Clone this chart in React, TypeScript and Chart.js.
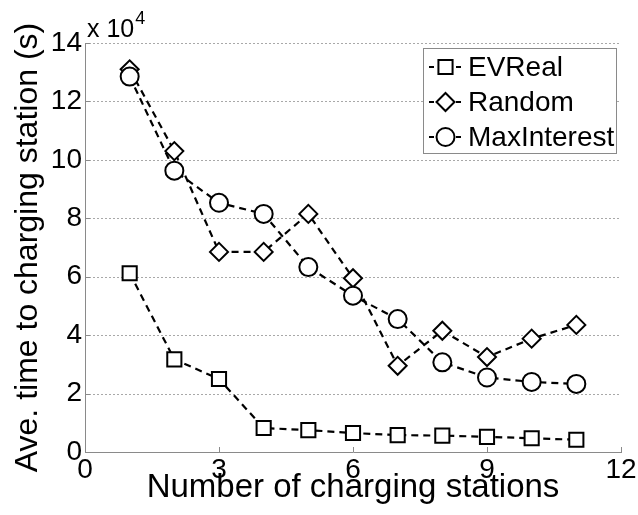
import React, { useEffect, useRef } from "react";
import { Chart, registerables } from "chart.js";

Chart.register(...registerables);

// ---- data (seconds) ----
const stations = [1, 2, 3, 4, 5, 6, 7, 8, 9, 10, 11];
const evReal = [61200, 31700, 25000, 8200, 7500, 6500, 5800, 5600, 5200, 4700, 4200];
const randomSel = [131000, 103000, 68500, 68500, 81500, 59500, 29500, 41500, 32500, 38800, 43500];
const maxInterest = [128500, 96300, 85300, 81500, 63300, 53500, 45500, 30700, 25500, 24000, 23300];
const seriesNames = ["EVReal", "Random", "MaxInterest"];
const xTickValues = [0, 3, 6, 9, 12];
const yTickValues = [0, 2, 4, 6, 8, 10, 12, 14]; // x 10^4
const yMultiplier = 10000;

const FONT = "'Liberation Sans', Arial, Helvetica, sans-serif";
const AXIS_GRAY = "#8a8a8a";

function drawMarker(ctx: CanvasRenderingContext2D, style: string, r: number, x: number, y: number) {
  ctx.beginPath();
  if (style === "rect") {
    const s = Math.SQRT1_2 * r;
    ctx.rect(x - s, y - s, 2 * s, 2 * s);
  } else if (style === "rectRot") {
    ctx.moveTo(x - r, y);
    ctx.lineTo(x, y - r);
    ctx.lineTo(x + r, y);
    ctx.lineTo(x, y + r);
    ctx.closePath();
  } else {
    ctx.arc(x, y, r, 0, Math.PI * 2);
  }
  ctx.fill();
  ctx.stroke();
}

const dottedGrid = {
  id: "dottedGrid",
  beforeDatasetsDraw(chart: any) {
    const { ctx, chartArea, scales } = chart;
    ctx.save();
    ctx.strokeStyle = "#a8a8a8";
    ctx.lineWidth = 1;
    ctx.setLineDash([2, 2]);
    ctx.beginPath();
    yTickValues.forEach((v) => {
      if (v === 0) return;
      const py = Math.round(scales.y.getPixelForValue(v * yMultiplier)) + 0.5;
      ctx.moveTo(chartArea.left, py);
      ctx.lineTo(chartArea.right, py);
    });
    ctx.stroke();
    ctx.restore();
  },
};

const innerTicks = {
  id: "innerTicks",
  afterDatasetsDraw(chart: any) {
    const { ctx, chartArea, scales } = chart;
    ctx.save();
    ctx.strokeStyle = AXIS_GRAY;
    ctx.lineWidth = 1;
    ctx.beginPath();
    xTickValues.forEach((v) => {
      const px = Math.round(scales.x.getPixelForValue(v)) + 0.5;
      ctx.moveTo(px, chartArea.bottom);
      ctx.lineTo(px, chartArea.bottom - 5);
    });
    yTickValues.forEach((v) => {
      const py = Math.round(scales.y.getPixelForValue(v * yMultiplier)) + 0.5;
      ctx.moveTo(chartArea.left, py);
      ctx.lineTo(chartArea.left + 5, py);
    });
    ctx.stroke();
    // exponent label "x 10^4"
    ctx.fillStyle = "#000";
    ctx.textBaseline = "alphabetic";
    ctx.textAlign = "left";
    ctx.font = `25px ${FONT}`;
    const base = "x 10";
    const bx = chartArea.left + 2;
    const by = chartArea.top - 6;
    ctx.fillText(base, bx, by);
    const w = ctx.measureText(base).width;
    ctx.font = `18px ${FONT}`;
    ctx.fillText("4", bx + w + 1, by - 13);
    ctx.restore();
  },
};

const boxLegend = {
  id: "boxLegend",
  afterDraw(chart: any) {
    const { ctx, chartArea } = chart;
    const right = chartArea.right - 5;
    const top = chartArea.top + 5;
    const width = 193;
    const height = 105;
    const left = right - width;
    ctx.save();
    ctx.fillStyle = "#fff";
    ctx.fillRect(left, top, width, height);
    ctx.strokeStyle = AXIS_GRAY;
    ctx.lineWidth = 1;
    ctx.strokeRect(Math.round(left) + 0.5, Math.round(top) + 0.5, width, height);
    chart.data.datasets.forEach((ds: any, i: number) => {
      const cy = top + 19 + i * 35;
      const sx = left + 6;
      ctx.strokeStyle = "#000";
      ctx.lineWidth = 2;
      ctx.setLineDash([5, 4]);
      ctx.beginPath();
      ctx.moveTo(sx, cy);
      ctx.lineTo(sx + 33, cy);
      ctx.stroke();
      ctx.setLineDash([]);
      ctx.fillStyle = "#fff";
      drawMarker(ctx, ds.pointStyle, ds.pointRadius, sx + 16.5, cy);
      ctx.fillStyle = "#000";
      ctx.font = `28px ${FONT}`;
      ctx.textBaseline = "middle";
      ctx.textAlign = "left";
      ctx.fillText(ds.label, sx + 39, cy + 1);
    });
    ctx.restore();
  },
};

export default function App() {
  const ref = useRef<HTMLCanvasElement | null>(null);

  useEffect(() => {
    if (!ref.current) return;
    const styles = ["rect", "rectRot", "circle"];
    const radii = [10, 9, 9];
    const values = [evReal, randomSel, maxInterest];
    const chart = new Chart(ref.current, {
      type: "line",
      data: {
        datasets: values.map((vals, i) => ({
          label: seriesNames[i],
          data: stations.map((s, j) => ({ x: s, y: vals[j] })),
          borderColor: "#000",
          borderWidth: 2.2,
          borderDash: [7, 5],
          pointStyle: styles[i],
          pointRadius: radii[i],
          pointBorderWidth: 2,
          pointBorderColor: "#000",
          pointBackgroundColor: "#fff",
          fill: false,
          tension: 0,
          order: 2 - i,
        })),
      },
      options: {
        animation: false,
        responsive: false,
        devicePixelRatio: 1,
        layout: { padding: { top: 43, right: 17, left: 0, bottom: 0 } },
        plugins: { legend: { display: false }, tooltip: { enabled: false } },
        scales: {
          x: {
            type: "linear",
            min: 0,
            max: 12,
            afterBuildTicks: (scale: any) => {
              scale.ticks = xTickValues.map((v) => ({ value: v }));
            },
            afterFit: (scale: any) => {
              scale.height = 63;
            },
            ticks: {
              color: "#000",
              font: { family: FONT, size: 28 },
              padding: 1,
              maxRotation: 0,
              autoSkip: false,
            },
            grid: { display: false, drawTicks: false },
            border: { display: true, color: AXIS_GRAY, width: 1 },
            title: {
              display: true,
              text: "Number of charging stations",
              color: "#000",
              font: { family: FONT, size: 33 },
              padding: { top: 0, bottom: 7 },
            },
          },
          y: {
            type: "linear",
            min: 0,
            max: 140000,
            afterBuildTicks: (scale: any) => {
              scale.ticks = yTickValues.map((v) => ({ value: v * yMultiplier }));
            },
            afterFit: (scale: any) => {
              scale.width = 85;
            },
            ticks: {
              color: "#000",
              font: { family: FONT, size: 28 },
              padding: 3,
              callback: (v: any) => String(Number(v) / yMultiplier),
            },
            grid: { display: false, drawTicks: false },
            border: { display: true, color: AXIS_GRAY, width: 1 },
            title: {
              display: true,
              text: "Ave. time to charging station (s)",
              color: "#000",
              font: { family: FONT, size: 32 },
              padding: { top: 9, bottom: 0 },
            },
          },
        },
      },
      plugins: [dottedGrid, innerTicks, boxLegend],
    } as any);
    return () => chart.destroy();
  }, []);

  return (
    <div style={{ position: "fixed", left: 0, top: 0, width: 638, height: 515, background: "#fff" }}>
      <canvas ref={ref} width={638} height={515} />
    </div>
  );
}
